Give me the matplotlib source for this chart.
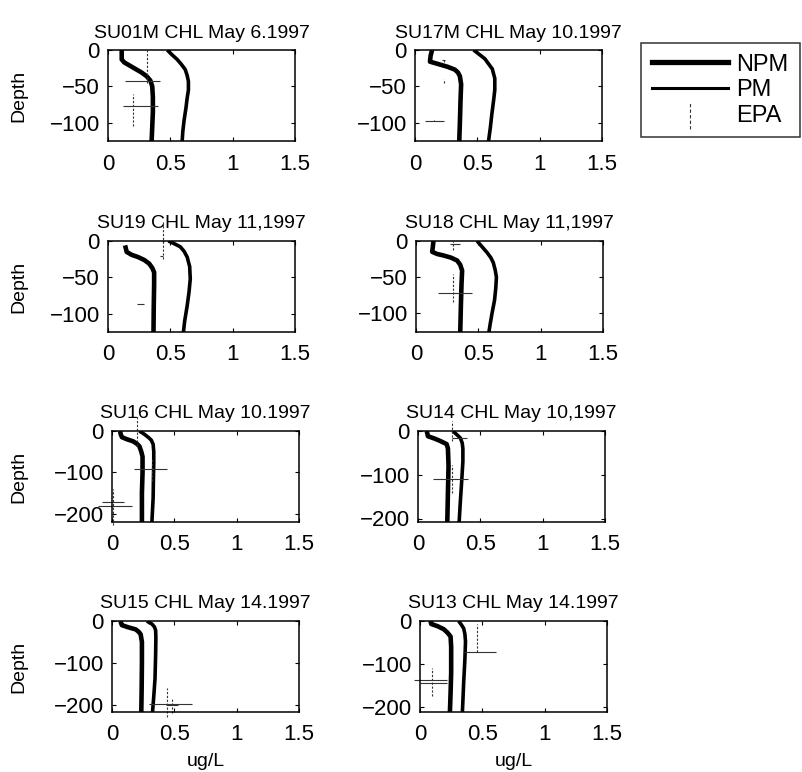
import matplotlib
matplotlib.use('Agg')
import matplotlib.pyplot as plt
from matplotlib.lines import Line2D
from matplotlib.legend_handler import HandlerBase

plt.rcParams['font.family'] = ['Liberation Sans', 'DejaVu Sans']
plt.rcParams['axes.unicode_minus'] = True

# ---------------- data ----------------
titles = ["SU01M CHL May 6.1997", "SU17M CHL May 10.1997",
          "SU19 CHL May 11,1997", "SU18 CHL May 11,1997",
          "SU16 CHL May 10.1997", "SU14 CHL May 10,1997",
          "SU15 CHL May 14.1997", "SU13 CHL May 14.1997"]

xticks = [0, 0.5, 1, 1.5]
xtick_labels = ["0", "0.5", "1", "1.5"]
yticks_shallow = [0, -50, -100]
yticks_deep = [0, -100, -200]
legend_labels = ["NPM", "PM", "EPA"]
x_label = "ug/L"
y_label = "Depth"

# NPM profiles (depth, value)
npm_depth = [
    [0, -5, -13, -17, -21, -26, -31, -36, -42, -50, -65, -85, -105, -125],
    [0, -8, -16, -20, -23, -27, -31, -36, -47, -70, -100, -125],
    [-6, -15, -19, -22, -26, -31, -37, -43, -60, -90, -125],
    [0, -8, -15, -18, -20, -23, -27, -33, -41, -60, -90, -126],
    [0, -8, -15, -20, -25, -31, -37, -50, -62, -100, -150, -220],
    [0, -6, -12, -17, -23, -30, -40, -80, -140, -208],
    [0, -5, -10, -15, -20, -26, -32, -50, -100, -160, -217],
    [0, -4, -7, -12, -19, -27, -36, -60, -120, -170, -212],
]
npm_value = [
    [0.11, 0.11, 0.11, 0.13, 0.17, 0.22, 0.27, 0.31, 0.34, 0.355, 0.36, 0.36, 0.355, 0.35],
    [0.137, 0.125, 0.12, 0.20, 0.26, 0.32, 0.345, 0.36, 0.37, 0.365, 0.36, 0.355],
    [0.137, 0.15, 0.19, 0.24, 0.29, 0.33, 0.355, 0.37, 0.37, 0.367, 0.365],
    [0.14, 0.135, 0.13, 0.17, 0.22, 0.28, 0.33, 0.355, 0.37, 0.365, 0.36, 0.355],
    [0.065, 0.07, 0.08, 0.12, 0.17, 0.20, 0.22, 0.235, 0.245, 0.245, 0.24, 0.24],
    [0.07, 0.075, 0.08, 0.13, 0.18, 0.23, 0.24, 0.245, 0.24, 0.235],
    [0.07, 0.072, 0.08, 0.13, 0.19, 0.215, 0.23, 0.24, 0.24, 0.238, 0.235],
    [0.087, 0.087, 0.09, 0.14, 0.19, 0.22, 0.245, 0.25, 0.25, 0.245, 0.24],
]

# PM profiles (depth, value)
pm_depth = [
    [0, -6, -13, -20, -27, -35, -43, -55, -66, -80, -97, -112, -125],
    [0, -12, -26, -39, -55, -70, -90, -106, -125],
    [0, -4, -8, -14, -22, -35, -52, -70, -89, -110, -125],
    [0, -8, -16, -23, -30, -40, -50, -65, -82, -100, -115, -126],
    [0, -8, -15, -22, -32, -50, -77, -120, -162, -220],
    [0, -8, -16, -28, -40, -70, -117, -160, -208],
    [0, -4, -7, -14, -22, -40, -80, -138, -180, -217],
    [0, -8, -17, -30, -48, -90, -145, -180, -212],
]
pm_value = [
    [0.475, 0.51, 0.555, 0.59, 0.62, 0.635, 0.645, 0.645, 0.635, 0.625, 0.61, 0.60, 0.595],
    [0.47, 0.56, 0.62, 0.64, 0.64, 0.63, 0.615, 0.605, 0.59],
    [0.485, 0.535, 0.58, 0.61, 0.635, 0.655, 0.66, 0.65, 0.635, 0.615, 0.605],
    [0.49, 0.53, 0.57, 0.60, 0.62, 0.635, 0.645, 0.64, 0.63, 0.61, 0.595, 0.585],
    [0.22, 0.26, 0.29, 0.315, 0.33, 0.335, 0.335, 0.332, 0.33, 0.32],
    [0.28, 0.31, 0.34, 0.355, 0.36, 0.36, 0.35, 0.34, 0.33],
    [0.28, 0.30, 0.32, 0.34, 0.35, 0.352, 0.35, 0.345, 0.335, 0.325],
    [0.31, 0.33, 0.35, 0.36, 0.365, 0.36, 0.35, 0.345, 0.34],
]

# EPA samples: (value, depth, value err low, value err high, depth err below, depth err above)
epa = [
    [(0.31, -43, 0.17, 0.11, 3, 43), (0.20, -77, 0.08, 0.20, 27, 16)],
    [(0.23, -14, 0.01, 0.01, 2, 2), (0.23, -43, 0.0, 0.0, 3, 3), (0.15, -97, 0.07, 0.08, 1, 1)],
    [(0.44, 0, 0.01, 0.01, 25, 26), (0.43, -20, 0.01, 0.01, 0, 0), (0.26, -87, 0.03, 0.03, 0, 0)],
    [(0.30, -72, 0.12, 0.15, 13, 27), (0.30, -4, 0.03, 0.05, 8, 4)],
    [(0.20, 0, 0.0, 0.0, 37, 37), (0.32, -92, 0.14, 0.125, 28, 27),
     (0.01, -182, 0.12, 0.15, 45, 42), (0.02, -172, 0.10, 0.08, 0, 0)],
    [(0.27, 0, 0.0, 0.0, 23, 23), (0.33, -17, 0.06, 0.06, 0, 0), (0.27, -110, 0.15, 0.13, 31, 33)],
    [(0.44, -197, 0.14, 0.205, 33, 37), (0.48, -200, 0.05, 0.05, 20, 17)],
    [(0.46, -72, 0.11, 0.15, 0, 65), (0.10, -137, 0.15, 0.12, 38, 27), (0.08, -145, 0.08, 0.14, 0, 0)],
]

# ---------------- layout (pixels) ----------------
W, H = 802, 772
fig = plt.figure(figsize=(W / 100, H / 100), dpi=100)
col_left = [[108, 415], [108, 416], [112, 418], [112, 420]]
row_top = [50, 241, 431, 621]
AX_W, AX_H = 187, 91

TICK_FS = 16
TITLE_FS = 14
LABEL_FS = 14
EPA_COLOR = '0.2'


class VerticalDashHandler(HandlerBase):
    def create_artists(self, legend, orig_handle, xdescent, ydescent,
                       width, height, fontsize, trans):
        xm = width / 2 - xdescent
        ln = Line2D([xm, xm], [-ydescent - 0.45 * height, height * 1.2 - ydescent],
                    color=EPA_COLOR, lw=0.8, ls=(0, (3, 2)))
        ln.set_transform(trans)
        return [ln]


for i in range(8):
    r, c = divmod(i, 2)
    left = col_left[r][c]
    top = row_top[r]
    ax = fig.add_axes([left / W, 1 - (top + AX_H) / H, AX_W / W, AX_H / H])
    ax.plot(npm_value[i], npm_depth[i], color='black', lw=3.3, solid_capstyle='butt')
    ax.plot(pm_value[i], pm_depth[i], color='black', lw=2.6, solid_capstyle='butt')
    for (xv, dv, xl, xh, dl, dh) in epa[i]:
        cont = ax.errorbar([xv], [dv], xerr=[[xl], [xh]], yerr=[[dl], [dh]],
                           fmt='none', ecolor=EPA_COLOR, elinewidth=0.8, capsize=0)
        for art in cont.lines[2]:
            art.set_clip_on(False)
        if len(cont.lines[2]) > 1:
            cont.lines[2][1].set_linestyle((0, (2, 1.5)))
    bottom = min(min(npm_depth[i]), min(pm_depth[i]))
    ax.set_ylim(bottom, 0)
    ax.set_xlim(0, 1.5)
    ax.set_xticks(xticks)
    ax.set_xticklabels(xtick_labels)
    ax.set_yticks(yticks_shallow if r < 2 else yticks_deep)
    ax.tick_params(direction='in', length=3, width=0.8, top=True, right=True,
                   labelsize=TICK_FS, colors='black')
    ax.tick_params(axis='x', pad=9)
    ax.tick_params(axis='y', pad=6)
    for s in ax.spines.values():
        s.set_linewidth(1.1)
        s.set_color('black')
    ax.set_title(titles[i], fontsize=TITLE_FS, pad=9)
    if c == 0:
        ax.set_ylabel(y_label, fontsize=LABEL_FS)
        ax.yaxis.set_label_coords((27 - left) / AX_W, 0.5)
    if r == 3:
        ax.set_xlabel(x_label, fontsize=LABEL_FS)
        ax.xaxis.set_label_coords(0.5, -(753 - (top + AX_H)) / AX_H)

epa_proxy = Line2D([], [], color=EPA_COLOR)
handles = [Line2D([], [], color='black', lw=3.8),
           Line2D([], [], color='black', lw=2.2),
           epa_proxy]
leg = fig.legend(handles, legend_labels, loc='upper left',
                 bbox_to_anchor=(641 / W, 1 - 43 / H), borderaxespad=0,
                 fontsize=17, handlelength=3.25, handletextpad=0.35,
                 borderpad=0.45, labelspacing=0.15, frameon=True, fancybox=False,
                 handler_map={epa_proxy: VerticalDashHandler()})
leg.get_frame().set_edgecolor('black')
leg.get_frame().set_linewidth(1.1)

fig.savefig('out.png', dpi=100)
